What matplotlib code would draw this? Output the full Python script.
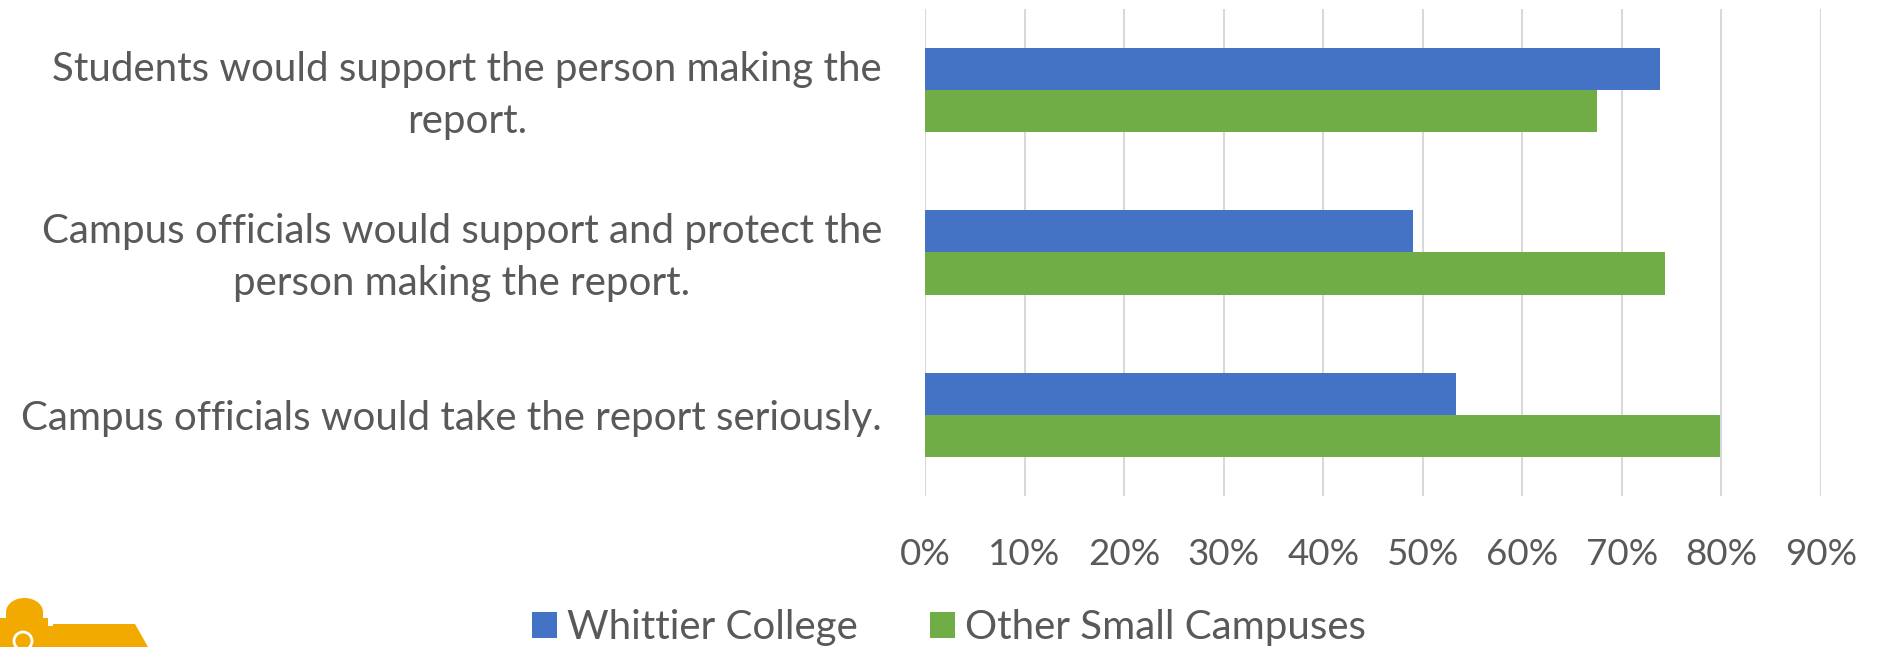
import matplotlib.pyplot as plt
from matplotlib.patches import Polygon, Ellipse
from matplotlib.transforms import ScaledTranslation

# Data
categories = [
    "Students would support the person making the\nreport.",
    "Campus officials would support and protect the\nperson making the report.",
    "Campus officials would take the report seriously.",
]
whittier = [0.738, 0.490, 0.533]
other_small = [0.675, 0.743, 0.799]
series_names = ["Whittier College", "Other Small Campuses"]
xticks = [0, 0.1, 0.2, 0.3, 0.4, 0.5, 0.6, 0.7, 0.8, 0.9]

blue = "#4472C4"
green = "#70AD47"
text_col = "#595959"
grid_col = "#D9D9D9"

plt.rcParams['font.family'] = ['Lato', 'DejaVu Sans']

W, H = 1879, 647
fig = plt.figure(figsize=(W / 100, H / 100), dpi=100)
ax = fig.add_axes([925 / W, 1 - 496 / H, (1821 - 925) / W, (496 - 9) / H])

ypos = list(range(len(categories)))
bh = 0.26
ax.barh([y - bh / 2 for y in ypos], whittier, height=bh, color=blue,
        label=series_names[0], zorder=3)
ax.barh([y + bh / 2 for y in ypos], other_small, height=bh, color=green,
        label=series_names[1], zorder=3)

ax.set_xlim(0, 0.9)
ax.set_ylim(len(categories) - 0.5, -0.5)
ax.set_xticks(xticks)
ax.set_xticklabels([f"{int(round(t * 100))}%" for t in xticks])
ax.set_yticks(ypos)
ax.set_yticklabels(categories, multialignment='center', linespacing=1.5)

ax.tick_params(axis='x', length=0, pad=30, labelsize=26.5, labelcolor=text_col)
ax.tick_params(axis='y', length=0, pad=31, labelsize=29, labelcolor=text_col)

# nudge the two-line labels up a little
for lab in ax.get_yticklabels():
    if "\n" in lab.get_text():
        lab.set_transform(lab.get_transform() +
                          ScaledTranslation(0, 6 / 100, fig.dpi_scale_trans))

ax.grid(axis='x', color=grid_col, linewidth=1.5, zorder=0)
ax.grid(axis='y', visible=False)
for s in ax.spines.values():
    s.set_visible(False)

leg = fig.legend(loc='center', bbox_to_anchor=(0.505, 1 - 628 / H), ncol=2,
                 frameon=False, fontsize=29, handlelength=0.62, handleheight=0.62,
                 handletextpad=0.25, columnspacing=1.8, labelcolor=text_col)

# logo fragment in bottom-left corner
gold = "#F2AA00"
def px(x, y):
    return (x / W, 1 - y / H)

pts = [(0, 647), (0, 618), (6, 618), (6, 612), (43, 612), (43, 618), (48, 618),
       (48, 626), (53, 626), (53, 624), (135, 624), (148, 647)]
fig.patches.append(Polygon([px(x, y) for x, y in pts], closed=True,
                           transform=fig.transFigure, color=gold, lw=0))
fig.patches.append(Ellipse(px(24.5, 612), 37 / W, 28 / H,
                           transform=fig.transFigure, color=gold, lw=0))
fig.patches.append(Ellipse(px(23, 641), 18 / W, 18 / H, transform=fig.transFigure,
                           facecolor='none', edgecolor='white', lw=2))

fig.savefig("out.png", dpi=100)
